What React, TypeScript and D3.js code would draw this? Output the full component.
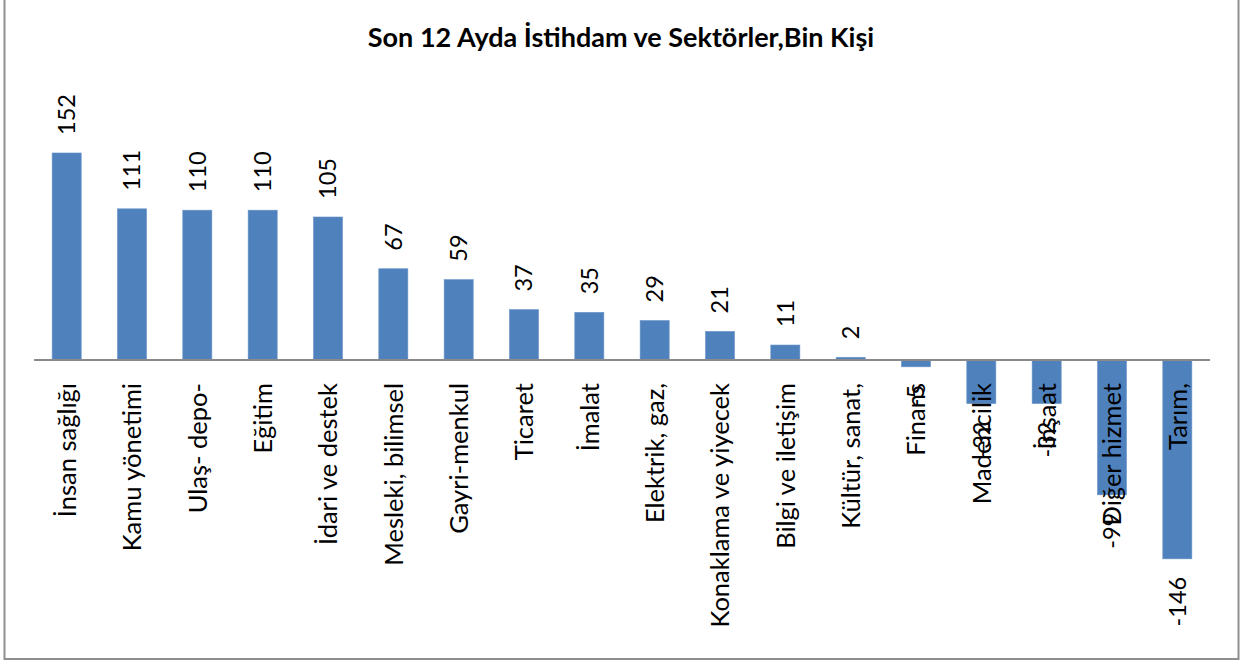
import React from "react";
import * as d3 from "d3";

const TITLE = "Son 12 Ayda İstihdam ve Sektörler,Bin Kişi";
const categories = [
  "İnsan sağlığı",
  "Kamu yönetimi",
  "Ulaş- depo-",
  "Eğitim",
  "İdari ve destek",
  "Mesleki,  bilimsel",
  "Gayri-menkul",
  "Ticaret",
  "İmalat",
  "Elektrik, gaz,",
  "Konaklama ve yiyecek",
  "Bilgi ve iletişim",
  "Kültür, sanat,",
  "Finans",
  "Madencilik",
  "İnşaat",
  "Diğer hizmet",
  "Tarım,",
];
const values = [152, 111, 110, 110, 105, 67, 59, 37, 35, 29, 21, 11, 2, -5, -32, -32, -99, -146];

const W = 1242;
const H = 664;
const FONT = "Lato, 'Open Sans', sans-serif";

export default function App() {
  const x = d3.scaleBand<string>().domain(categories).range([34, 1210]).paddingInner(0.555).paddingOuter(0.2775);
  const y = d3.scaleLinear().domain([-200, 200]).range([632.4, 87.6]);
  const bw = x.bandwidth();
  const y0 = y(0);

  return (
    <svg width={W} height={H} style={{ position: "absolute", left: 0, top: 0, background: "#fff" }}>
      <rect x={0} y={0} width={W} height={H} fill="#fff" />
      <rect x={4.5} y={-5} width={1234} height={664} fill="none" stroke="#8f8f8f" strokeWidth={2} />
      <text x={621} y={47} textAnchor="middle" fontFamily={FONT} fontWeight="bold" fontSize={27} fill="#000">
        {TITLE}
      </text>
      {categories.map((c, i) => {
        const v = values[i];
        return (
          <rect
            key={c}
            x={x(c)}
            y={Math.min(y(v), y0)}
            width={bw}
            height={Math.abs(y(v) - y0)}
            fill="#4F81BD"
            stroke="#6a95c8"
            strokeWidth={0.6}
          />
        );
      })}
      <line x1={34} x2={1210} y1={y0} y2={y0} stroke="#8a8a8a" strokeWidth={2} />
      {categories.map((c, i) => {
        const v = values[i];
        const cx = (x(c) as number) + bw / 2;
        const ly = v >= 0 ? y(v) - 18 : y(v) + 18;
        return (
          <text
            key={"v" + c}
            transform={`translate(${cx},${ly}) rotate(-90)`}
            textAnchor={v >= 0 ? "start" : "end"}
            dy="0.36em"
            fontFamily={FONT}
            fontSize={23.5}
            fill="#000"
          >
            {v}
          </text>
        );
      })}
      {categories.map((c) => {
        const cx = (x(c) as number) + bw / 2;
        return (
          <text
            key={"c" + c}
            transform={`translate(${cx},${y0 + 23}) rotate(-90)`}
            textAnchor="end"
            dy="0.36em"
            fontFamily={FONT}
            fontSize={25.5}
            fill="#000"
          >
            {c}
          </text>
        );
      })}
    </svg>
  );
}
